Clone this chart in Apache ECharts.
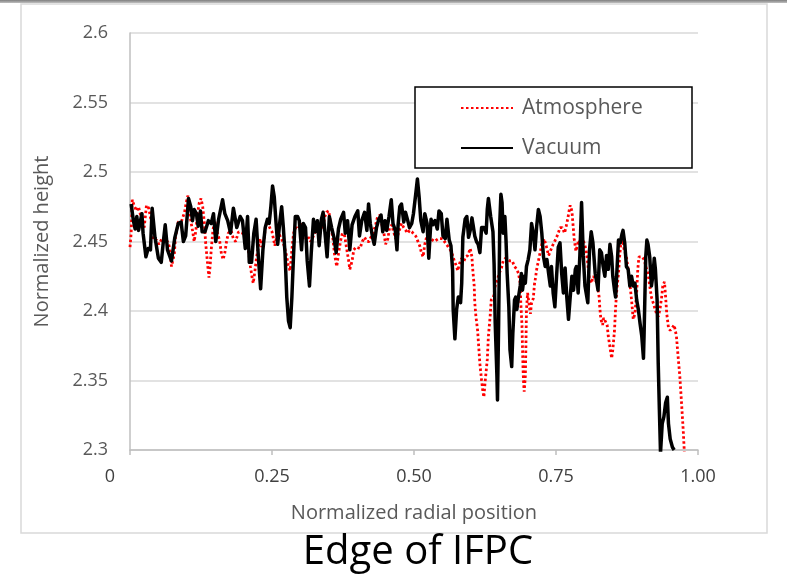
<!DOCTYPE html>
<html>
<head>
<meta charset="utf-8">
<title>Edge of IFPC</title>
<script src="https://cdn.jsdelivr.net/npm/echarts@6/dist/echarts.min.js"></script>
<style>
  html, body { margin: 0; padding: 0; background: #fff; }
  #chart { width: 787px; height: 578px; }
</style>
</head>
<body>
<div id="chart"></div>
<script>
// values: [normalized radial position, normalized height]
const atmosphere = [
  [0.000,2.446],[0.002,2.456],[0.004,2.480],[0.008,2.475],[0.012,2.472],[0.015,2.475],[0.021,2.465],[0.025,2.460],
  [0.029,2.476],[0.033,2.474],[0.038,2.463],[0.041,2.451],[0.047,2.451],[0.051,2.448],[0.056,2.452],[0.062,2.453],
  [0.068,2.448],[0.070,2.445],[0.073,2.432],[0.076,2.432],[0.078,2.441],[0.080,2.453],[0.085,2.464],[0.091,2.465],
  [0.096,2.471],[0.099,2.478],[0.102,2.483],[0.104,2.475],[0.107,2.465],[0.110,2.458],[0.113,2.450],[0.116,2.458],
  [0.119,2.470],[0.122,2.478],[0.125,2.481],[0.128,2.475],[0.131,2.463],[0.133,2.450],[0.135,2.441],[0.137,2.432],
  [0.139,2.424],[0.141,2.432],[0.143,2.444],[0.146,2.458],[0.149,2.465],[0.153,2.458],[0.158,2.450],[0.161,2.441],
  [0.164,2.437],[0.167,2.442],[0.170,2.450],[0.173,2.456],[0.178,2.458],[0.182,2.452],[0.186,2.450],[0.191,2.457],
  [0.194,2.457],[0.198,2.456],[0.203,2.453],[0.207,2.448],[0.210,2.439],[0.212,2.432],[0.215,2.424],[0.217,2.420],
  [0.220,2.429],[0.223,2.439],[0.226,2.446],[0.229,2.452],[0.232,2.446],[0.236,2.452],[0.239,2.462],[0.243,2.463],
  [0.247,2.459],[0.250,2.457],[0.252,2.453],[0.255,2.447],[0.258,2.453],[0.262,2.456],[0.265,2.453],[0.269,2.450],
  [0.272,2.446],[0.276,2.439],[0.279,2.432],[0.282,2.429],[0.285,2.444],[0.288,2.456],[0.292,2.460],[0.296,2.459],
  [0.300,2.463],[0.304,2.458],[0.308,2.454],[0.311,2.451],[0.315,2.453],[0.318,2.450],[0.322,2.453],[0.325,2.456],
  [0.329,2.458],[0.332,2.459],[0.336,2.463],[0.339,2.459],[0.343,2.468],[0.346,2.471],[0.350,2.472],[0.353,2.463],
  [0.357,2.453],[0.360,2.441],[0.364,2.432],[0.367,2.441],[0.371,2.451],[0.374,2.456],[0.378,2.454],[0.381,2.446],
  [0.385,2.436],[0.387,2.430],[0.391,2.436],[0.394,2.444],[0.398,2.446],[0.401,2.446],[0.405,2.445],[0.409,2.450],
  [0.413,2.453],[0.417,2.450],[0.421,2.450],[0.424,2.453],[0.428,2.456],[0.433,2.463],[0.436,2.468],[0.440,2.469],
  [0.443,2.463],[0.447,2.456],[0.450,2.448],[0.454,2.452],[0.457,2.460],[0.461,2.462],[0.464,2.457],[0.468,2.452],
  [0.471,2.454],[0.475,2.459],[0.478,2.463],[0.482,2.460],[0.485,2.460],[0.489,2.456],[0.492,2.458],[0.496,2.457],
  [0.499,2.458],[0.503,2.454],[0.506,2.451],[0.510,2.447],[0.513,2.442],[0.516,2.439],[0.519,2.448],[0.522,2.453],
  [0.525,2.451],[0.529,2.452],[0.532,2.453],[0.536,2.450],[0.539,2.451],[0.543,2.452],[0.546,2.453],[0.550,2.452],
  [0.553,2.451],[0.557,2.448],[0.560,2.447],[0.564,2.444],[0.568,2.440],[0.571,2.436],[0.575,2.432],[0.577,2.429],
  [0.580,2.434],[0.584,2.438],[0.588,2.436],[0.591,2.439],[0.595,2.440],[0.599,2.445],[0.602,2.439],[0.603,2.432],
  [0.606,2.418],[0.607,2.406],[0.609,2.396],[0.612,2.386],[0.614,2.374],[0.616,2.362],[0.619,2.350],[0.621,2.343],
  [0.623,2.338],[0.625,2.348],[0.627,2.348],[0.629,2.365],[0.631,2.382],[0.634,2.396],[0.636,2.408],[0.640,2.410],
  [0.643,2.418],[0.647,2.423],[0.651,2.428],[0.654,2.431],[0.657,2.436],[0.661,2.438],[0.665,2.437],[0.669,2.436],
  [0.673,2.436],[0.677,2.432],[0.681,2.430],[0.684,2.427],[0.687,2.420],[0.688,2.406],[0.690,2.391],[0.691,2.374],
  [0.692,2.358],[0.693,2.348],[0.694,2.342],[0.696,2.353],[0.697,2.374],[0.698,2.401],[0.700,2.413],[0.702,2.407],
  [0.705,2.398],[0.707,2.406],[0.710,2.409],[0.712,2.419],[0.714,2.424],[0.716,2.430],[0.719,2.436],[0.722,2.442],
  [0.725,2.448],[0.729,2.452],[0.732,2.448],[0.737,2.440],[0.741,2.444],[0.745,2.448],[0.750,2.452],[0.754,2.456],
  [0.757,2.460],[0.761,2.460],[0.765,2.456],[0.768,2.461],[0.771,2.467],[0.773,2.472],[0.775,2.476],[0.778,2.472],
  [0.780,2.462],[0.782,2.452],[0.785,2.443],[0.787,2.443],[0.790,2.451],[0.793,2.448],[0.798,2.451],[0.801,2.451],
  [0.803,2.444],[0.806,2.434],[0.808,2.425],[0.812,2.420],[0.816,2.425],[0.820,2.422],[0.823,2.418],[0.826,2.410],
  [0.827,2.403],[0.829,2.394],[0.832,2.390],[0.834,2.395],[0.837,2.396],[0.840,2.390],[0.842,2.382],[0.845,2.374],
  [0.848,2.366],[0.850,2.372],[0.853,2.386],[0.855,2.403],[0.857,2.415],[0.860,2.427],[0.862,2.439],[0.864,2.448],
  [0.867,2.451],[0.870,2.444],[0.874,2.439],[0.877,2.430],[0.880,2.420],[0.883,2.408],[0.886,2.394],[0.889,2.398],
  [0.892,2.413],[0.894,2.430],[0.896,2.439],[0.898,2.440],[0.902,2.439],[0.905,2.437],[0.909,2.431],[0.912,2.427],
  [0.915,2.418],[0.918,2.410],[0.921,2.406],[0.924,2.402],[0.927,2.398],[0.930,2.396],[0.933,2.401],[0.936,2.410],
  [0.938,2.418],[0.941,2.421],[0.943,2.410],[0.945,2.398],[0.948,2.388],[0.951,2.386],[0.955,2.388],[0.958,2.390],
  [0.962,2.382],[0.965,2.367],[0.968,2.353],[0.971,2.334],[0.974,2.314],[0.976,2.298]
];

const vacuum = [
  [0.002,2.477],[0.006,2.465],[0.009,2.459],[0.012,2.468],[0.015,2.458],[0.021,2.470],[0.023,2.456],[0.028,2.439],
  [0.032,2.445],[0.036,2.444],[0.039,2.474],[0.044,2.453],[0.050,2.438],[0.055,2.435],[0.059,2.451],[0.062,2.462],
  [0.066,2.444],[0.073,2.436],[0.079,2.453],[0.085,2.463],[0.090,2.464],[0.094,2.450],[0.098,2.454],[0.103,2.481],
  [0.107,2.475],[0.110,2.465],[0.113,2.473],[0.117,2.470],[0.120,2.461],[0.124,2.472],[0.127,2.457],[0.132,2.457],
  [0.138,2.465],[0.143,2.463],[0.147,2.470],[0.151,2.450],[0.156,2.466],[0.163,2.480],[0.167,2.470],[0.172,2.465],
  [0.177,2.456],[0.182,2.474],[0.188,2.460],[0.194,2.468],[0.198,2.465],[0.203,2.445],[0.207,2.468],[0.210,2.435],
  [0.214,2.435],[0.218,2.456],[0.222,2.466],[0.226,2.439],[0.230,2.416],[0.234,2.444],[0.238,2.460],[0.242,2.466],
  [0.245,2.463],[0.248,2.475],[0.251,2.490],[0.254,2.482],[0.257,2.464],[0.260,2.448],[0.264,2.465],[0.267,2.475],
  [0.270,2.460],[0.273,2.441],[0.276,2.410],[0.279,2.393],[0.282,2.388],[0.285,2.410],[0.288,2.441],[0.291,2.468],
  [0.295,2.468],[0.298,2.465],[0.302,2.444],[0.305,2.463],[0.309,2.460],[0.312,2.436],[0.316,2.418],[0.319,2.441],
  [0.323,2.466],[0.326,2.457],[0.330,2.465],[0.333,2.447],[0.337,2.466],[0.340,2.471],[0.344,2.453],[0.347,2.439],
  [0.351,2.468],[0.355,2.460],[0.359,2.453],[0.363,2.442],[0.367,2.459],[0.371,2.466],[0.376,2.471],[0.379,2.456],
  [0.383,2.465],[0.387,2.444],[0.391,2.462],[0.396,2.468],[0.401,2.472],[0.404,2.454],[0.408,2.465],[0.413,2.471],
  [0.417,2.458],[0.420,2.477],[0.423,2.463],[0.427,2.453],[0.430,2.448],[0.434,2.460],[0.438,2.466],[0.442,2.469],
  [0.445,2.457],[0.449,2.465],[0.452,2.458],[0.456,2.468],[0.460,2.480],[0.463,2.463],[0.467,2.458],[0.470,2.444],
  [0.472,2.462],[0.475,2.475],[0.478,2.477],[0.482,2.464],[0.485,2.471],[0.489,2.465],[0.492,2.460],[0.496,2.463],
  [0.499,2.470],[0.503,2.484],[0.506,2.495],[0.509,2.482],[0.512,2.465],[0.516,2.457],[0.519,2.470],[0.523,2.463],
  [0.526,2.438],[0.530,2.466],[0.533,2.462],[0.537,2.465],[0.541,2.459],[0.544,2.472],[0.548,2.470],[0.551,2.454],
  [0.555,2.452],[0.558,2.466],[0.562,2.451],[0.565,2.447],[0.568,2.429],[0.569,2.401],[0.572,2.380],[0.575,2.401],
  [0.578,2.410],[0.582,2.406],[0.584,2.420],[0.586,2.453],[0.590,2.466],[0.593,2.468],[0.596,2.453],[0.599,2.458],
  [0.602,2.467],[0.604,2.462],[0.607,2.454],[0.610,2.450],[0.613,2.448],[0.616,2.442],[0.619,2.460],[0.623,2.460],
  [0.627,2.456],[0.629,2.473],[0.631,2.481],[0.635,2.468],[0.639,2.457],[0.641,2.434],[0.643,2.391],[0.646,2.353],
  [0.647,2.336],[0.649,2.391],[0.651,2.463],[0.653,2.484],[0.655,2.478],[0.657,2.456],[0.660,2.468],[0.662,2.451],
  [0.664,2.427],[0.667,2.403],[0.669,2.372],[0.672,2.360],[0.674,2.384],[0.677,2.408],[0.679,2.410],[0.681,2.401],
  [0.684,2.410],[0.687,2.418],[0.689,2.427],[0.691,2.415],[0.694,2.425],[0.696,2.420],[0.698,2.432],[0.701,2.437],
  [0.704,2.444],[0.707,2.463],[0.710,2.456],[0.713,2.444],[0.716,2.461],[0.719,2.473],[0.722,2.468],[0.725,2.456],
  [0.728,2.439],[0.731,2.432],[0.734,2.437],[0.737,2.427],[0.740,2.418],[0.742,2.432],[0.745,2.413],[0.748,2.403],
  [0.751,2.425],[0.754,2.446],[0.757,2.449],[0.760,2.427],[0.763,2.413],[0.766,2.431],[0.769,2.410],[0.772,2.394],
  [0.775,2.410],[0.778,2.425],[0.781,2.415],[0.784,2.430],[0.786,2.432],[0.789,2.413],[0.792,2.440],[0.795,2.478],
  [0.798,2.440],[0.801,2.418],[0.806,2.406],[0.809,2.444],[0.812,2.457],[0.815,2.449],[0.819,2.427],[0.822,2.420],
  [0.824,2.415],[0.827,2.444],[0.830,2.442],[0.833,2.432],[0.836,2.425],[0.839,2.440],[0.842,2.430],[0.845,2.448],
  [0.848,2.439],[0.850,2.425],[0.853,2.415],[0.855,2.410],[0.857,2.427],[0.860,2.451],[0.863,2.449],[0.866,2.455],
  [0.868,2.458],[0.871,2.449],[0.874,2.432],[0.877,2.430],[0.880,2.418],[0.883,2.425],[0.886,2.418],[0.889,2.420],
  [0.892,2.408],[0.895,2.401],[0.898,2.391],[0.901,2.382],[0.904,2.366],[0.905,2.382],[0.908,2.439],[0.910,2.451],
  [0.912,2.448],[0.915,2.439],[0.918,2.418],[0.921,2.427],[0.923,2.438],[0.925,2.430],[0.928,2.408],[0.930,2.362],
  [0.932,2.329],[0.934,2.298],[0.937,2.319],[0.940,2.324],[0.943,2.334],[0.946,2.338],[0.948,2.319],[0.951,2.308],
  [0.955,2.302],[0.958,2.300]
];

const xTicks = [0, 0.25, 0.5, 0.75, 1];
const yRange = [2.3, 2.6];

const FONT = '"Open Sans", "Liberation Sans", sans-serif';
const GREY_TEXT = '#595959';

let myChart = echarts.init(document.getElementById('chart'), null, { renderer: 'canvas' });

let option = {
  backgroundColor: '#fff',
  animation: false,
  textStyle: { fontFamily: FONT },
  grid: {
    left: 130,
    right: 89,
    top: 33,
    bottom: 128,
    outerBoundsMode: 'none'
  },
  legend: {
    orient: 'vertical',
    left: 460,
    top: 97,
    padding: 0,
    itemWidth: 52,
    itemHeight: 14,
    itemGap: 18,
    z: 10,
    // only the line in the legend icon, no marker
    itemStyle: { color: 'rgba(0,0,0,0)', borderWidth: 0 },
    textStyle: {
      fontFamily: FONT,
      fontSize: 21,
      lineHeight: 22,
      color: GREY_TEXT,
      padding: [0, 0, 0, 4]
    },
    data: ['Atmosphere', 'Vacuum']
  },
  xAxis: {
    type: 'value',
    min: xTicks[0],
    max: xTicks[xTicks.length - 1],
    interval: 0.25,
    name: 'Normalized radial position',
    nameLocation: 'middle',
    nameGap: 53,
    nameTextStyle: { fontFamily: FONT, fontSize: 20, color: GREY_TEXT },
    axisLine: { show: true, lineStyle: { color: '#bfbfbf', width: 1.5 } },
    axisTick: { show: true, length: 5, lineStyle: { color: '#bfbfbf', width: 1.5 } },
    splitLine: { show: false },
    axisLabel: {
      margin: 18,
      fontFamily: FONT,
      fontSize: 18,
      color: '#404040',
      // excel puts the 0 a bit to the left of the axis
      formatter: function (v) {
        return v === 0 ? '{z|0}' : v.toFixed(2);
      },
      rich: {
        z: { fontFamily: FONT, fontSize: 18, color: '#404040', padding: [0, 40, 0, 0] }
      }
    }
  },
  yAxis: {
    type: 'value',
    min: yRange[0],
    max: yRange[1],
    interval: 0.05,
    name: 'Normalized height',
    nameLocation: 'middle',
    nameGap: 78,
    nameTextStyle: { fontFamily: FONT, fontSize: 20, color: GREY_TEXT },
    axisLine: { show: true, lineStyle: { color: '#bfbfbf', width: 1.5 } },
    axisTick: { show: false },
    splitLine: { lineStyle: { color: '#d9d9d9', width: 1.5 } },
    axisLabel: {
      margin: 22,
      fontFamily: FONT,
      fontSize: 18,
      color: GREY_TEXT,
      formatter: function (v) {
        return String(Math.round(v * 100) / 100);
      }
    }
  },
  graphic: [
    // slide edge at the top
    {
      type: 'rect',
      shape: { x: 0, y: 0, width: 787, height: 3 },
      style: {
        fill: new echarts.graphic.LinearGradient(0, 0, 0, 1, [
          { offset: 0, color: '#7f7f7f' },
          { offset: 1, color: '#bfbfbf' }
        ])
      },
      silent: true
    },
    // chart area border
    {
      type: 'rect',
      shape: { x: 21, y: 4, width: 746, height: 529 },
      style: { fill: 'none', stroke: '#d9d9d9', lineWidth: 1.5 },
      silent: true
    },
    // legend box
    {
      type: 'rect',
      z: 5,
      shape: { x: 415, y: 87, width: 277, height: 81 },
      style: { fill: '#fff', stroke: '#000', lineWidth: 1.5 },
      silent: true
    },
    {
      type: 'text',
      style: {
        x: 418,
        y: 553,
        text: 'Edge of IFPC',
        fontFamily: FONT,
        fontSize: 40,
        fill: '#000',
        textAlign: 'center',
        textVerticalAlign: 'middle'
      },
      silent: true
    }
  ],
  series: [
    {
      name: 'Atmosphere',
      type: 'line',
      data: atmosphere,
      showSymbol: false,
      symbol: 'none',
      symbolSize: 0,
      clip: true,
      color: '#ff0000',
      lineStyle: { color: '#ff0000', width: 2.8, type: [2.5, 2.5] }
    },
    {
      name: 'Vacuum',
      type: 'line',
      data: vacuum,
      showSymbol: false,
      symbol: 'none',
      symbolSize: 0,
      clip: true,
      color: '#000',
      lineStyle: { color: '#000', width: 3.5, join: 'round' }
    }
  ]
};

myChart.setOption(option, true);
</script>
</body>
</html>
